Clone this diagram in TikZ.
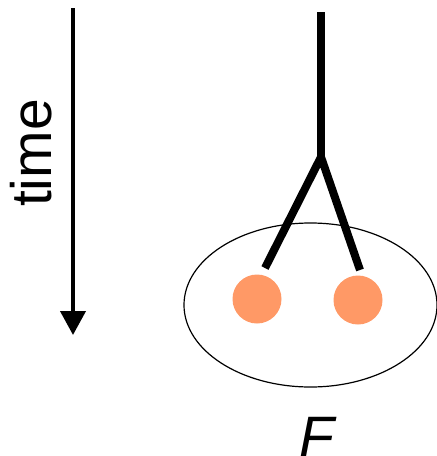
\documentclass[tikz,border=0pt]{standalone}
\usepackage{fontspec}
\setmainfont{Liberation Sans}
\usetikzlibrary{arrows.meta, shapes.geometric}

\begin{document}
\begin{tikzpicture}[x=1pt, y=-1pt]
    % Define colors
    \definecolor{borderColour}{HTML}{000000}
    \definecolor{fillColour}{HTML}{FF9966}

    % Define styles
    \tikzset{
        branch/.style={draw=borderColour, line width=8pt},
        particle/.style={circle, fill=fillColour, minimum size=49pt, inner sep=0pt},
        bigtext/.style={font=\fontsize{57}{60}\selectfont, inner sep=0pt}
    }

    % Fix the picture size
    \useasboundingbox (0,0) rectangle (437,456);

    % Draw time axis
    \coordinate (timeStart) at (73,8);
    \coordinate (timeEnd) at (73,335);
    \draw[line width=4pt, -{Triangle[length=24pt, width=25pt]}] (timeStart) -- (timeEnd);
    \node[bigtext, rotate=90, anchor=base] (timeLabel) at (52,153) {time};

    % Draw the region
    \node[ellipse, draw=borderColour, line width=1.2pt, minimum width=253pt, minimum height=164pt] (region) at (310.5,305) {};
    \node[bigtext, anchor=base] (regionLabel) at (317,456) {\itshape F};

    % Draw the two particles
    \node[particle] (particleA) at (257,299) {};
    \node[particle] (particleB) at (358,300) {};

    % Draw the branching line
    \coordinate (top) at (321,12);
    \coordinate (fork) at (321,157);
    \coordinate (legA) at (265,268);
    \coordinate (legB) at (360,270);
    \draw[branch] (top) -- (fork);
    \draw[branch] (legA) -- (fork) -- (legB);

\end{tikzpicture}
\end{document}
